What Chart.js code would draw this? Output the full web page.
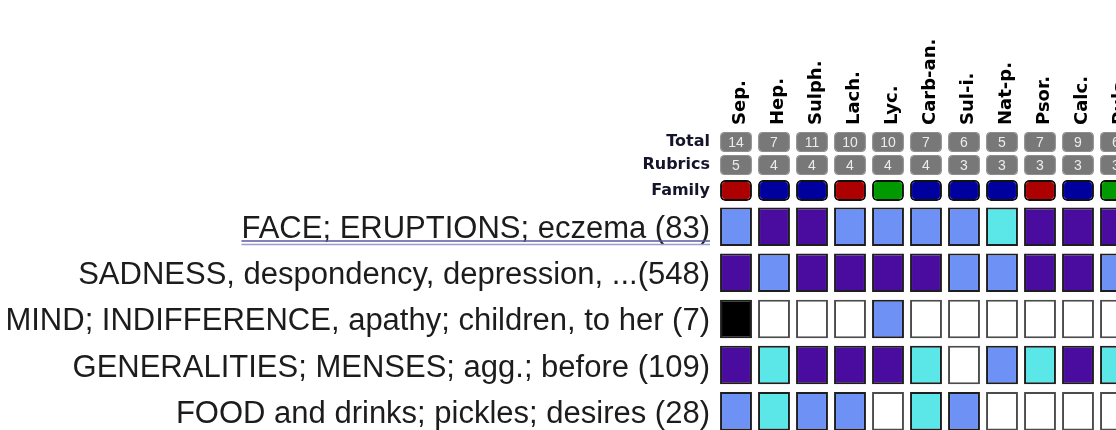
<!DOCTYPE html>
<html>
<head>
<meta charset="utf-8">
<script src="https://cdn.jsdelivr.net/npm/chart.js@4/dist/chart.umd.min.js"></script>
<style>
  html, body { margin: 0; padding: 0; background: #fff; overflow: hidden; }
  #wrap { width: 1140px; height: 440px; }
</style>
</head>
<body>
<div id="wrap"><canvas id="grid" width="1140" height="440"></canvas></div>
<script>
// ===== DATA =====
const remedies = ['Sep.', 'Hep.', 'Sulph.', 'Lach.', 'Lyc.', 'Carb-an.', 'Sul-i.', 'Nat-p.', 'Psor.', 'Calc.', 'Puls.'];
const totals = [14, 7, 11, 10, 10, 7, 6, 5, 7, 9, 6];
const rubricCounts = [5, 4, 4, 4, 4, 4, 3, 3, 3, 3, 3];
const families = ['animal', 'mineral', 'mineral', 'animal', 'plant', 'mineral', 'mineral', 'mineral', 'animal', 'mineral', 'plant'];
const headerLabels = ['Total', 'Rubrics', 'Family'];
const rubrics = [
    'FACE; ERUPTIONS; eczema (83)',
    'SADNESS, despondency, depression, ...(548)',
    'MIND; INDIFFERENCE, apathy; children, to her (7)',
    'GENERALITIES; MENSES; agg.; before (109)',
    'FOOD and drinks; pickles; desires (28)'
];
// grade of each remedy in each rubric (0 = absent)
const grades = [
    [2, 3, 3, 2, 2, 2, 2, 1, 3, 3, 3],
    [3, 2, 3, 3, 3, 3, 2, 2, 3, 3, 2],
    [4, 0, 0, 0, 2, 0, 0, 0, 0, 0, 0],
    [3, 1, 3, 3, 3, 1, 0, 2, 1, 3, 1],
    [2, 1, 2, 2, 0, 1, 2, 0, 0, 0, 0]
];

// ===== STYLE =====
const gradeColors = ['#ffffff', '#5be7e7', '#6e91f6', '#4a0b9f', '#000000'];
const familyColors = { animal: '#ad0000', mineral: '#00009e', plant: '#009a00' };

// vertical layout (pixels from the top of the plot area)
const HEADER_TOP = [4, 27, 52];
const HEADER_H = [20, 20, 21];
const ROW_TOP = 79.5, ROW_PITCH = 46.1, ROW_H = 38.5;
const rowTop = i => ROW_TOP + ROW_PITCH * i;

const headerFont = { family: 'DejaVu Sans', weight: 'bold', size: 16 };
const rubricFont = { family: 'Liberation Sans', size: 31 };

function span(top, h) { return remedies.map(() => [top, top + h]); }

const datasets = [
    {
        data: span(HEADER_TOP[0], HEADER_H[0]),
        backgroundColor: '#787878', borderColor: '#8e8e8e', borderWidth: 1, borderRadius: 4
    },
    {
        data: span(HEADER_TOP[1], HEADER_H[1]),
        backgroundColor: '#787878', borderColor: '#8e8e8e', borderWidth: 1, borderRadius: 4
    },
    {
        data: span(HEADER_TOP[2], HEADER_H[2]),
        backgroundColor: families.map(f => familyColors[f]), borderColor: '#111', borderWidth: 2, borderRadius: 5
    }
];
grades.forEach((row, i) => {
    datasets.push({
        data: span(rowTop(i), ROW_H),
        backgroundColor: row.map(g => gradeColors[g]),
        borderColor: row.map(g => g === 0 ? '#4c4c4c' : '#1e1e1e'),
        borderWidth: 2
    });
});

const yTicks = HEADER_TOP.map((t, i) => t + HEADER_H[i] / 2)
    .concat(rubrics.map((r, i) => rowTop(i) + ROW_H / 2 + 3));
const yLabels = headerLabels.concat(rubrics);

// numbers in the Total / Rubrics boxes, underline on the first rubric
const boxText = {
    id: 'boxText',
    afterDatasetsDraw(chart) {
        const ctx = chart.ctx;
        ctx.save();
        ctx.font = '14px "Liberation Sans"';
        ctx.fillStyle = '#ececec';
        ctx.textAlign = 'center';
        ctx.textBaseline = 'middle';
        [totals, rubricCounts].forEach((vals, d) => {
            chart.getDatasetMeta(d).data.forEach((bar, i) => {
                ctx.fillText(String(vals[i]), bar.x, (bar.y + bar.base) / 2 + 1);
            });
        });

        const ys = chart.scales.y;
        const right = ys.right - ys.options.ticks.padding;
        ctx.font = rubricFont.size + 'px "Liberation Sans"';
        const w = ctx.measureText(rubrics[0]).width;
        const base = ys.getPixelForValue(rowTop(0) + ROW_H);
        ctx.lineWidth = 1.5;
        ctx.strokeStyle = '#5a5aa0';
        ctx.beginPath(); ctx.moveTo(right - w, base - 5); ctx.lineTo(right, base - 5); ctx.stroke();
        ctx.strokeStyle = '#9c9ccc';
        ctx.beginPath(); ctx.moveTo(right - w, base - 1.5); ctx.lineTo(right, base - 1.5); ctx.stroke();
        ctx.restore();
    }
};

new Chart(document.getElementById('grid'), {
    type: 'bar',
    data: { labels: remedies, datasets: datasets },
    options: {
        responsive: false,
        animation: false,
        devicePixelRatio: 1,
        layout: { padding: { left: 0, right: 5, top: 0, bottom: 0 } },
        datasets: { bar: { grouped: false, barPercentage: 0.84, categoryPercentage: 1, borderSkipped: false } },
        plugins: { legend: { display: false }, tooltip: { enabled: false } },
        scales: {
            x: {
                position: 'top',
                grid: { display: false, drawTicks: false },
                border: { display: false },
                ticks: {
                    autoSkip: false, minRotation: 90, maxRotation: 90, padding: 3, labelOffset: 26,
                    color: '#000', font: { family: 'DejaVu Sans', weight: 'bold', size: 18 }
                },
                afterFit(scale) { scale.height = 128; scale.paddingLeft = 0; scale.paddingRight = 0; }
            },
            y: {
                type: 'linear',
                reverse: true,
                min: 0,
                max: 312,
                grid: { display: false, drawTicks: false },
                border: { display: false },
                afterBuildTicks(scale) { scale.ticks = yTicks.map(v => ({ value: v })); },
                ticks: {
                    padding: 7,
                    callback: (v, i) => yLabels[i],
                    color: ctx => ctx.index < 3 ? '#14142a' : '#1c1c1c',
                    font: ctx => ctx.index < 3 ? headerFont : rubricFont
                },
                afterFit(scale) { scale.width = 717; scale.paddingTop = 0; scale.paddingBottom = 0; }
            }
        }
    },
    plugins: [boxText]
});
</script>
</body>
</html>
